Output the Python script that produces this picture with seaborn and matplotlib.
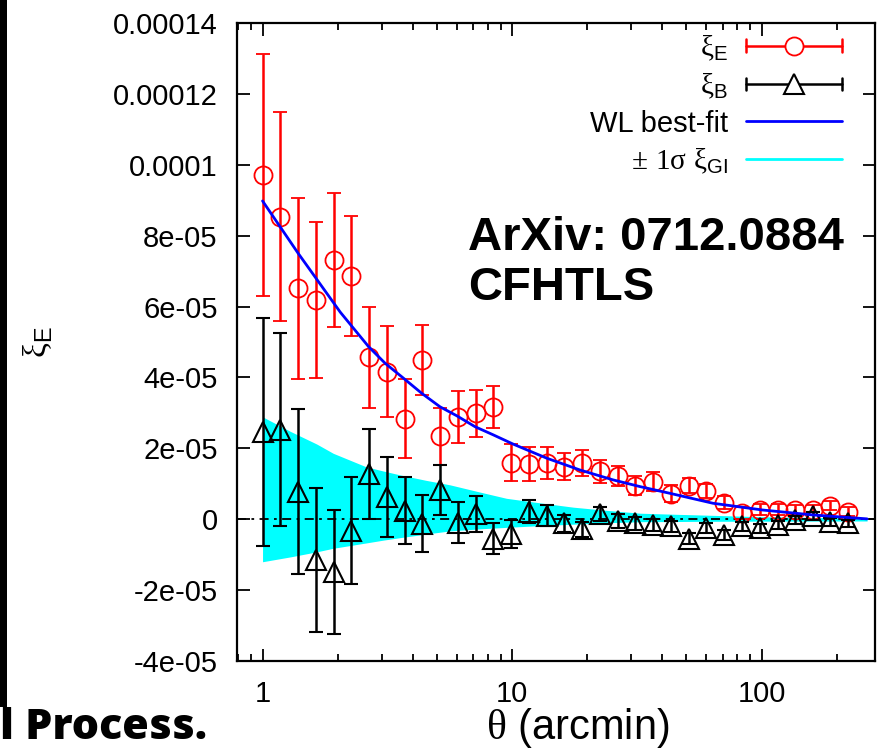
import numpy as np
import matplotlib
matplotlib.use("Agg")
import matplotlib.pyplot as plt
import seaborn as sns
from matplotlib.lines import Line2D
from matplotlib.legend_handler import HandlerBase
from matplotlib.patches import Rectangle
from matplotlib.ticker import FixedLocator, FixedFormatter, LogLocator, NullFormatter

# values below are in units of 1e-5
SCALE = 1e-5

theta = [1.00, 1.18, 1.39, 1.64, 1.93, 2.27, 2.67, 3.15, 3.71, 4.37,
         5.15, 6.06, 7.14, 8.41, 9.91, 11.7, 13.8, 16.2, 19.1, 22.5,
         26.5, 31.2, 36.7, 43.3, 51.0, 60.1, 70.8, 83.4, 98.2, 116,
         136, 161, 189, 223]

xi_e = [9.71, 8.54, 6.51, 6.19, 7.31, 6.86, 4.57, 4.16, 2.84, 4.49,
        2.34, 2.89, 2.99, 3.17, 1.60, 1.56, 1.58, 1.48, 1.59, 1.35,
        1.22, 0.95, 1.06, 0.72, 0.95, 0.80, 0.47, 0.18, 0.27, 0.27,
        0.27, 0.26, 0.38, 0.21]
xi_e_err = [3.42, 2.96, 2.55, 2.20, 1.90, 1.70, 1.43, 1.28, 1.11, 0.99,
            0.81, 0.74, 0.66, 0.59, 0.52, 0.47, 0.45, 0.38, 0.36, 0.32,
            0.29, 0.27, 0.26, 0.24, 0.22, 0.20, 0.19, 0.17, 0.16, 0.15,
            0.14, 0.14, 0.13, 0.13]

xi_b = [2.46, 2.53, 0.78, -1.16, -1.50, -0.32, 1.28, 0.63, 0.24, -0.13,
        0.82, -0.10, 0.15, -0.55, -0.42, 0.21, 0.10, -0.12, -0.28, 0.14,
        -0.05, -0.12, -0.16, -0.20, -0.55, -0.25, -0.45, -0.20, -0.26, -0.16,
        -0.02, 0.08, -0.07, -0.12]
xi_b_err = [3.21, 2.72, 2.33, 2.03, 1.75, 1.50, 1.26, 1.12, 0.94, 0.80,
            0.70, 0.58, 0.50, 0.43, 0.40, 0.33, 0.30, 0.24, 0.21, 0.20,
            0.19, 0.18, 0.17, 0.16, 0.15, 0.15, 0.14, 0.13, 0.13, 0.12,
            0.12, 0.11, 0.11, 0.10]

fit_theta = [1.0, 1.39, 2.05, 2.66, 3.10, 3.67, 4.35, 5.15, 6.0, 7.11,
             8.41, 10.1, 13.8, 18.7, 25.4, 32.6, 43.0, 63.9, 101, 161, 265]
fit_xi = [8.98, 7.50, 5.84, 4.87, 4.40, 3.98, 3.55, 3.17, 2.92, 2.61,
          2.38, 2.12, 1.72, 1.39, 1.11, 0.92, 0.73, 0.45, 0.26, 0.12, 0.01]

gi_theta = [1.0, 1.3, 1.65, 1.92, 2.6, 3.05, 3.56, 4.5, 5.64, 7.5,
            9.5, 13, 17.6, 24, 32.6, 45, 56.7, 100, 265]
gi_upper = [2.89, 2.47, 2.12, 1.86, 1.48, 1.36, 1.25, 1.10, 0.97, 0.76,
            0.59, 0.46, 0.34, 0.25, 0.17, 0.14, 0.12, 0.07, 0.03]
gi_lower = [-1.20, -1.06, -0.92, -0.82, -0.67, -0.59, -0.52, -0.42, -0.33, -0.27,
            -0.23, -0.18, -0.14, -0.10, -0.07, -0.065, -0.06, -0.055, -0.05]

y_ticks = [-4, -2, 0, 2, 4, 6, 8, 10, 12, 14]
y_tick_labels = ["-4e-05", "-2e-05", "0", "2e-05", "4e-05", "6e-05",
                 "8e-05", "0.0001", "0.00012", "0.00014"]
x_ticks = [1, 10, 100]
x_tick_labels = ["1", "10", "100"]

legend_labels = [r"$\mathsf{\xi}_\mathrm{E}$", r"$\mathsf{\xi}_\mathrm{B}$",
                 "WL best-fit", r"$\mathsf{\pm\ 1\sigma\ \xi}_\mathrm{GI}$"]


def scaled(vals):
    return np.asarray(vals, dtype=float) * SCALE


class HandlerErrorSample(HandlerBase):
    """Legend sample: horizontal bar with end caps and the point symbol in the middle."""

    def create_artists(self, legend, orig_handle, xdescent, ydescent,
                       width, height, fontsize, trans):
        y = height / 2 - ydescent
        x0 = -xdescent
        x1 = x0 + width
        cap = 0.3 * height
        color = orig_handle.get_color()
        lw = orig_handle.get_linewidth()
        bar = Line2D([x0, x1], [y, y], color=color, lw=lw)
        caps = Line2D([x0, x0, np.nan, x1, x1],
                      [y - cap, y + cap, np.nan, y - cap, y + cap],
                      color=color, lw=lw)
        mark = Line2D([(x0 + x1) / 2], [y], ls="none",
                      marker=orig_handle.get_marker(),
                      ms=orig_handle.get_markersize(),
                      mfc="white", mec=color,
                      mew=orig_handle.get_markeredgewidth())
        for a in (bar, caps, mark):
            a.set_transform(trans)
        return [bar, caps, mark]


sns.set_theme(style="ticks")
plt.rcParams["font.family"] = ["Liberation Sans", "DejaVu Sans"]
plt.rcParams["mathtext.fontset"] = "custom"
plt.rcParams["mathtext.rm"] = "Liberation Sans"
plt.rcParams["mathtext.it"] = "Liberation Sans:italic"
plt.rcParams["mathtext.bf"] = "Liberation Sans:bold"
plt.rcParams["mathtext.sf"] = "Liberation Serif"
plt.rcParams["text.color"] = "black"
plt.rcParams["axes.labelcolor"] = "black"
plt.rcParams["xtick.color"] = "black"
plt.rcParams["ytick.color"] = "black"

fig = plt.figure(figsize=(8.8, 7.5), dpi=100)
ax = fig.add_axes([237 / 880, 89 / 750, 638 / 880, 638 / 750])
ax.set_xscale("log")

RED = "#ff0000"
BLUE = "#0000ff"
CYAN = "#00ffff"

ax.fill_between(gi_theta, scaled(gi_lower), scaled(gi_upper),
                color=CYAN, lw=0, zorder=1)
ax.axhline(0, color="black", lw=1.3, ls=(0, (5, 3, 1.5, 3)), zorder=1.5)

ax.errorbar(theta, scaled(xi_e), yerr=scaled(xi_e_err), fmt="o", ms=13,
            mfc="none", mec=RED, mew=1.3, ecolor=RED, elinewidth=1.8,
            capsize=5, capthick=1.8, zorder=3)
ax.errorbar(theta, scaled(xi_b), yerr=scaled(xi_b_err), fmt="^", ms=15,
            mfc="none", mec="black", mew=1.5, ecolor="black", elinewidth=1.8,
            capsize=5, capthick=1.8, zorder=4)

sns.lineplot(x=fit_theta, y=scaled(fit_xi), ax=ax, color=BLUE, lw=2,
             sort=False, zorder=5, legend=False)

ax.set_xlim(0.79, 285)
ax.set_ylim(-4 * SCALE, 14 * SCALE)

ax.yaxis.set_major_locator(FixedLocator(list(scaled(y_ticks))))
ax.yaxis.set_major_formatter(FixedFormatter(y_tick_labels))
ax.xaxis.set_major_locator(FixedLocator(x_ticks))
ax.xaxis.set_major_formatter(FixedFormatter(x_tick_labels))
ax.xaxis.set_minor_locator(LogLocator(base=10, subs=np.arange(2, 10)))
ax.xaxis.set_minor_formatter(NullFormatter())
ax.yaxis.set_minor_locator(FixedLocator([]))

ax.tick_params(which="both", direction="in", top=True, right=True,
               width=1.3, color="black", labelcolor="black")
ax.tick_params(which="major", length=9, labelsize=21, pad=14)
ax.tick_params(which="minor", length=5)
for sp in ax.spines.values():
    sp.set_linewidth(1.6)
    sp.set_color("black")
ax.set_facecolor("white")

ax.set_ylabel(r"$\mathsf{\xi}_\mathrm{E}$", fontsize=24, rotation=90)
ax.yaxis.set_label_coords(-0.285, 0.5)

h_e = Line2D([], [], color=RED, lw=1.8, marker="o", ms=13, mew=1.3)
h_b = Line2D([], [], color="black", lw=1.8, marker="^", ms=15, mew=1.5)
h_fit = Line2D([], [], color=BLUE, lw=2)
h_gi = Line2D([], [], color=CYAN, lw=2)
ax.legend([h_e, h_b, h_fit, h_gi], legend_labels,
          handler_map={h_e: HandlerErrorSample(), h_b: HandlerErrorSample()},
          loc="upper right", bbox_to_anchor=((842 - 237) / 638, (661 - 33) / 638),
          markerfirst=False, frameon=False, fontsize=21, handlelength=3.3,
          handletextpad=0.6, labelspacing=0.3, borderaxespad=0, borderpad=0)

fig.text(468 / 880, (750 - 250) / 750, "ArXiv: 0712.0884", fontsize=34,
         fontweight="bold", va="baseline", ha="left")
fig.text(468 / 880, (750 - 300) / 750, "CFHTLS", fontsize=34,
         fontweight="bold", va="baseline", ha="left")

fig.text(578 / 880, (750 - 728) / 750, r"$\mathsf{\theta}$ (arcmin)",
         fontsize=30, ha="center", va="center")

fig.add_artist(Rectangle((0, 43 / 750), 7 / 880, 1, transform=fig.transFigure,
                         color="black", lw=0))
fig.text(0, 11 / 750, "l Process.", fontsize=31, fontweight="heavy",
         family=["Open Sans", "DejaVu Sans"], va="baseline", ha="left")

fig.savefig("out.png", dpi=100, facecolor="white")
